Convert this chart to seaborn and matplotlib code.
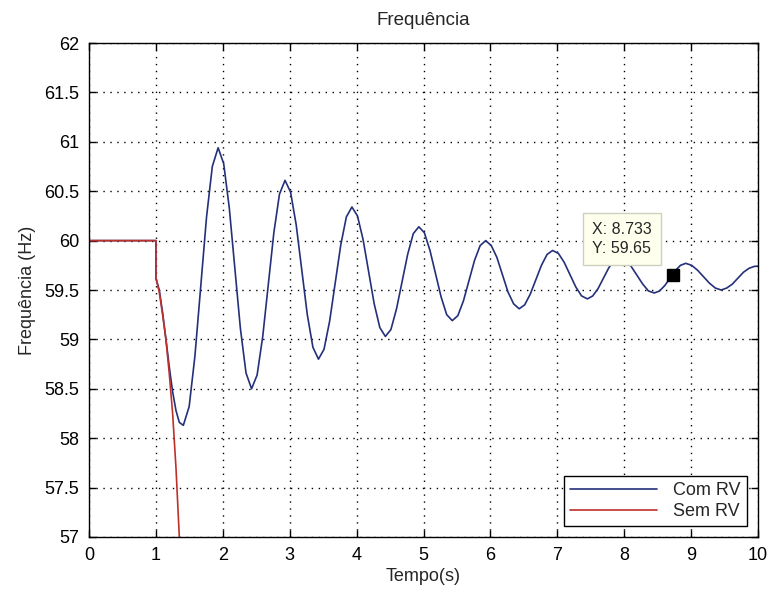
import numpy as np
import pandas as pd
import matplotlib
matplotlib.use('Agg')
import matplotlib.pyplot as plt
import seaborn as sns
from matplotlib.ticker import FuncFormatter

# Com RV
t_com = [0.0, 1.0, 1.0, 1.05, 1.10, 1.15, 1.20, 1.25, 1.30, 1.35, 1.41,
         1.497, 1.583, 1.67, 1.757, 1.843, 1.93,
         2.013, 2.097, 2.18, 2.263, 2.347, 2.43,
         2.513, 2.597, 2.68, 2.763, 2.847, 2.93,
         3.013, 3.097, 3.18, 3.263, 3.347, 3.43,
         3.513, 3.597, 3.68, 3.763, 3.847, 3.93,
         4.013, 4.097, 4.18, 4.263, 4.347, 4.43,
         4.513, 4.597, 4.68, 4.763, 4.847, 4.93,
         5.013, 5.097, 5.18, 5.263, 5.347, 5.43,
         5.513, 5.597, 5.68, 5.763, 5.847, 5.93,
         6.013, 6.097, 6.18, 6.263, 6.347, 6.43,
         6.513, 6.597, 6.68, 6.763, 6.847, 6.93,
         7.017, 7.103, 7.19, 7.277, 7.363, 7.45,
         7.53, 7.61, 7.69, 7.77, 7.85, 7.93,
         8.017, 8.103, 8.19, 8.277, 8.363, 8.45,
         8.528, 8.607, 8.685, 8.763, 8.842, 8.92,
         9.008, 9.097, 9.185, 9.273, 9.362, 9.45,
         9.533, 9.617, 9.70, 9.783, 9.867, 9.95, 10.0]
f_com = [60.0, 60.0, 59.62, 59.50, 59.27, 59.00, 58.72, 58.47, 58.28, 58.16, 58.13,
         58.32, 58.83, 59.535, 60.24, 60.75, 60.94,
         60.78, 60.33, 59.72, 59.11, 58.66, 58.50,
         58.64, 59.03, 59.555, 60.08, 60.47, 60.61,
         60.49, 60.16, 59.705, 59.25, 58.92, 58.80,
         58.90, 59.185, 59.57, 59.955, 60.24, 60.34,
         60.25, 60.01, 59.685, 59.36, 59.12, 59.03,
         59.10, 59.31, 59.585, 59.86, 60.07, 60.14,
         60.08, 59.90, 59.665, 59.43, 59.25, 59.19,
         59.24, 59.39, 59.595, 59.80, 59.95, 60.00,
         59.95, 59.83, 59.655, 59.48, 59.36, 59.31,
         59.35, 59.46, 59.605, 59.75, 59.86, 59.90,
         59.87, 59.78, 59.655, 59.53, 59.44, 59.41,
         59.44, 59.515, 59.62, 59.725, 59.80, 59.83,
         59.81, 59.74, 59.65, 59.56, 59.49, 59.47,
         59.49, 59.545, 59.62, 59.695, 59.75, 59.77,
         59.75, 59.70, 59.635, 59.57, 59.52, 59.50,
         59.52, 59.56, 59.62, 59.68, 59.72, 59.74, 59.74]

# Sem RV
t_sem = [0.0, 1.0, 1.0, 1.05, 1.10, 1.15, 1.20, 1.25, 1.30, 1.35, 1.38]
f_sem = [60.0, 60.0, 59.62, 59.48, 59.25, 59.00, 58.65, 58.25, 57.70, 57.00, 56.50]

# data tip
tip_x = 8.733
tip_y = 59.65

x_ticks = list(range(0, 11))
y_ticks = [57, 57.5, 58, 58.5, 59, 59.5, 60, 60.5, 61, 61.5, 62]

df_com = pd.DataFrame({'t': t_com, 'f': f_com})
df_sem = pd.DataFrame({'t': t_sem, 'f': f_sem})

sns.set_style('ticks')
plt.rcParams['font.family'] = ['Liberation Sans', 'DejaVu Sans']

fig = plt.figure(figsize=(7.7, 5.91), dpi=100)
ax = fig.add_axes([0.1156, 0.0914, 0.8688, 0.8358])

sns.lineplot(data=df_com, x='t', y='f', ax=ax, color='#24307a', lw=1.2,
             estimator=None, sort=False, label='Com RV')
sns.lineplot(data=df_sem, x='t', y='f', ax=ax, color='#c0302a', lw=1.2,
             estimator=None, sort=False, label='Sem RV')

ax.plot([tip_x], [tip_y], marker='s', ms=8, color='black', ls='none', zorder=5)
ax.annotate(f'X: {tip_x}\nY: {tip_y}', xy=(tip_x, tip_y), xytext=(-81, 36),
            textcoords='offset pixels', ha='left', va='center', fontsize=11.5,
            linespacing=1.35, zorder=6,
            bbox=dict(boxstyle='square,pad=0.55', fc='#ffffee', ec='#cfcfc0', lw=1))

ax.set_xlim(0, 10)
ax.set_ylim(57, 62)
ax.set_xticks(x_ticks)
ax.set_yticks(y_ticks)
ax.yaxis.set_major_formatter(FuncFormatter(lambda v, p: f'{v:g}'))
ax.tick_params(direction='in', length=5, width=1, top=True, right=True,
               labelsize=13, colors='black')
ax.tick_params(axis='x', pad=7)
ax.tick_params(axis='y', pad=7)
ax.grid(True, color='black', ls=(0, (1, 4)), lw=1)
for s in ax.spines.values():
    s.set_visible(True)
    s.set_color('black')
    s.set_linewidth(1)

ax.set_title('Frequência', fontsize=13.5, pad=13)
ax.set_xlabel('Tempo(s)', fontsize=13, labelpad=3)
ax.set_ylabel('Frequência (Hz)', fontsize=13, labelpad=6)

leg = ax.legend(loc='lower right', fontsize=13, frameon=True, fancybox=False,
                handlelength=4.8, handletextpad=0.9, borderaxespad=0.6,
                borderpad=0.35, labelspacing=0.2)
leg.get_frame().set_edgecolor('black')
leg.get_frame().set_linewidth(1)
leg.get_frame().set_alpha(1)

plt.savefig('out.png', dpi=100)
plt.close()
